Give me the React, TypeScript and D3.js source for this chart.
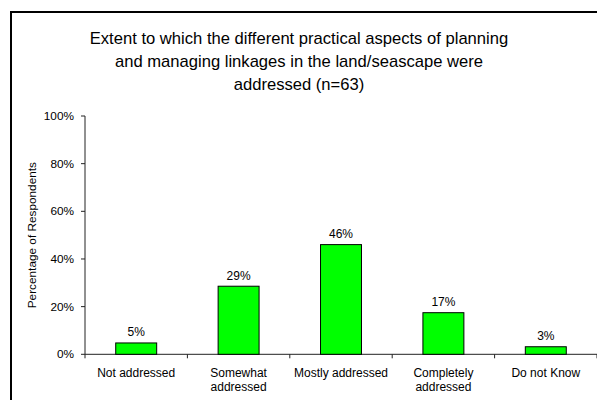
import React from "react";
import * as d3 from "d3";

const categories: string[][] = [
  ["Not addressed"],
  ["Somewhat", "addressed"],
  ["Mostly addressed"],
  ["Completely", "addressed"],
  ["Do not Know"],
];
const values: number[] = [4.76, 28.57, 46.03, 17.46, 3.17];
const valueLabels: string[] = ["5%", "29%", "46%", "17%", "3%"];
const yTicks: number[] = [0, 20, 40, 60, 80, 100];
const titleLines: string[] = [
  "Extent to which the different practical aspects of planning",
  "and managing linkages in the land/seascape were",
  "addressed (n=63)",
];
const yAxisTitle = "Percentage of Respondents";

const W = 597;
const H = 400;
const left = 85;
const right = 597;
const top = 116;
const bottom = 354.3;

export default function App() {
  const x = d3
    .scaleBand<number>()
    .domain(d3.range(categories.length))
    .range([left, right])
    .paddingInner(0.6)
    .paddingOuter(0.3);
  const band = d3.scaleBand<number>().domain(d3.range(categories.length)).range([left, right]);
  const y = d3.scaleLinear().domain([0, 100]).range([bottom, top]);
  const font = "Arial, 'Liberation Sans', sans-serif";

  return (
    <svg
      width={W}
      height={H}
      style={{ position: "absolute", left: 0, top: 0 }}
      fontFamily={font}
    >
      <rect x={0} y={0} width={W} height={H} fill="#fff" />
      <rect x={11} y={12} width={W} height={H} fill="none" stroke="#000" strokeWidth={2} />
      {titleLines.map((t, i) => (
        <text key={i} x={299} y={44 + i * 23} textAnchor="middle" fontSize={16.6} fill="#000">
          {t}
        </text>
      ))}
      {/* y axis */}
      <line x1={left} x2={left} y1={top} y2={bottom} stroke="#222" strokeWidth={1} />
      {yTicks.map((t) => (
        <g key={t}>
          <line x1={left - 4} x2={left} y1={y(t)} y2={y(t)} stroke="#222" />
          <text x={left - 11} y={y(t) + 4} textAnchor="end" fontSize={11.8} fill="#000">
            {t}%
          </text>
        </g>
      ))}
      <text
        transform={`translate(36,${(top + bottom) / 2}) rotate(-90)`}
        textAnchor="middle"
        fontSize={11.8}
        fill="#000"
      >
        {yAxisTitle}
      </text>
      {/* x axis */}
      <line x1={left} x2={right} y1={bottom} y2={bottom} stroke="#222" />
      {d3.range(categories.length + 1).map((i) => {
        const xx = i < categories.length ? band(i)! : right;
        return <line key={i} x1={xx} x2={xx} y1={bottom} y2={bottom + 4} stroke="#222" />;
      })}
      {/* bars */}
      {values.map((v, i) => (
        <g key={i}>
          <rect
            x={x(i)!}
            y={y(v)}
            width={x.bandwidth()}
            height={bottom - y(v)}
            fill="#00ff00"
            stroke="#000"
            strokeWidth={1}
          />
          <text
            x={x(i)! + x.bandwidth() / 2}
            y={y(v) - 6.5}
            textAnchor="middle"
            fontSize={12}
            fill="#000"
          >
            {valueLabels[i]}
          </text>
          {categories[i].map((line, j) => (
            <text
              key={j}
              x={band(i)! + band.bandwidth() / 2}
              y={376.5 + j * 14}
              textAnchor="middle"
              fontSize={12}
              fill="#000"
            >
              {line}
            </text>
          ))}
        </g>
      ))}
    </svg>
  );
}
